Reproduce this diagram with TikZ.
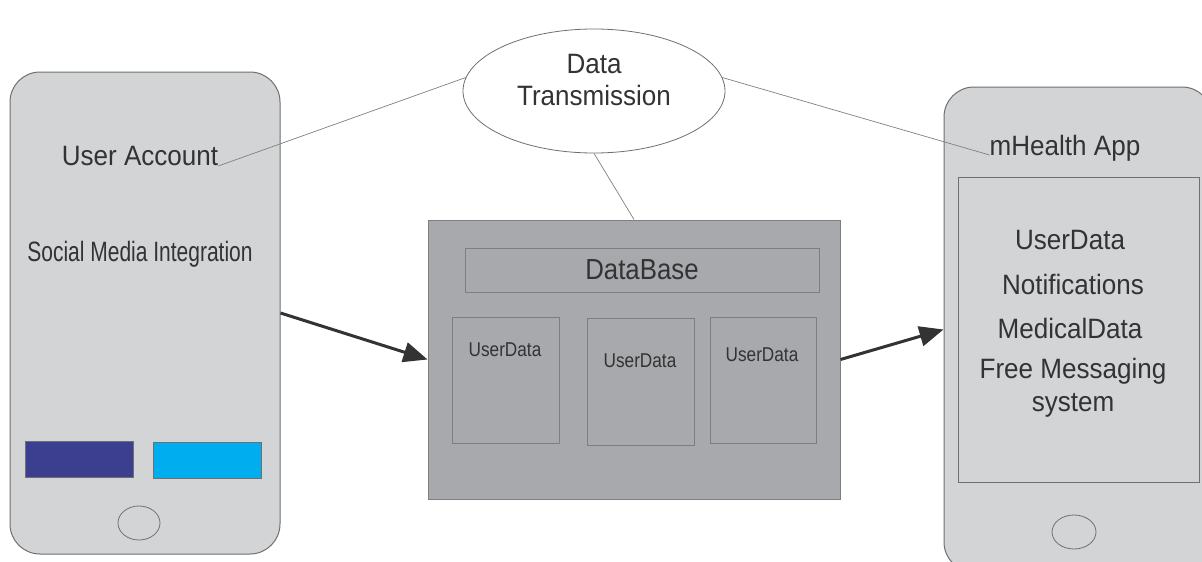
\documentclass[tikz,border=0pt]{standalone}
\usepackage{fontspec}
\setmainfont[FakeStretch=0.93]{Liberation Sans}
\newfontfamily\narrowfont[FakeStretch=0.75]{Liberation Sans}
\newfontfamily\semifont[FakeStretch=0.89]{Liberation Sans}
\newfontfamily\smallfont[FakeStretch=0.86]{Liberation Sans}
\usetikzlibrary{shapes.geometric,arrows.meta}
\definecolor{phonefill}{HTML}{D3D4D6}
\definecolor{phoneline}{HTML}{6F6F6F}
\definecolor{dbfill}{HTML}{A8A9AC}
\definecolor{dbline}{HTML}{7E7E80}
\definecolor{txt}{HTML}{333333}
\definecolor{linkc}{HTML}{808080}
\definecolor{navy}{HTML}{3C3F8F}
\definecolor{sky}{HTML}{00AEEF}
\begin{document}
\begin{tikzpicture}[x=1pt,y=-1pt,
 phone/.style={draw=phoneline, line width=1pt, fill=phonefill, rounded corners=30pt, inner sep=0},
 box/.style={draw=dbline, line width=1pt, inner sep=0},
 lbl/.style={text=txt, inner sep=0, font=\fontsize{28}{30}\selectfont},
 small/.style={text=txt, inner sep=0, font=\smallfont\fontsize{20}{22}\selectfont},
 link/.style={draw=linkc, line width=0.7pt},
 arr/.style={draw=txt, line width=3pt, -{Triangle[length=24pt,width=20pt]}},
 homebtn/.style={ellipse, draw=phoneline, line width=0.8pt, minimum width=42pt, minimum height=34pt, inner sep=0}
]
\useasboundingbox[fill=white] (0,0) rectangle (1202,562);

% left phone
\node[phone, minimum width=270pt, minimum height=482pt] (phoneL) at (145,313) {};
\node[lbl] (uacc) at (140,156) {User Account};
\node[text=txt, inner sep=0, font=\narrowfont\fontsize{28}{30}\selectfont] (smi) at (140,254) {Social Media Integration};
\node[draw=phoneline, line width=0.6pt, fill=navy, minimum width=108pt, minimum height=36pt, inner sep=0] (btn1) at (79,459) {};
\node[draw=phoneline, line width=0.6pt, fill=sky, minimum width=108pt, minimum height=36pt, inner sep=0] (btn2) at (207,460) {};
\node[homebtn] (homeL) at (139,523) {};

% right phone
\node[phone, minimum width=268pt, minimum height=485pt] (phoneR) at (1078,329.5) {};
\node[lbl, anchor=base] (mh) at (1065,155) {mHealth App};
\node[draw=phoneline, line width=1pt, fill=phonefill, minimum width=241pt, minimum height=305pt, inner sep=0] (screen) at (1078.5,329.5) {};
\node[lbl] (r1) at (1070,240) {UserData};
\node[lbl] (r2) at (1073,284) {Notifications};
\node[lbl] (r3) at (1070,328) {MedicalData};
\node[lbl, align=center, font=\fontsize{28}{33}\selectfont] (r4) at (1073,388) {Free Messaging\\system};
\node[homebtn, minimum width=44pt] (homeR) at (1074,532) {};

% database
\node[box, fill=dbfill, minimum width=412pt, minimum height=279pt] (db) at (634,359.5) {};
\node[box, minimum width=354pt, minimum height=44pt] (dbhead) at (642,270) {};
\node[text=txt, inner sep=0, font=\semifont\fontsize{29}{30}\selectfont] (dbt) at (642,270) {DataBase};
\node[box, minimum width=107pt, minimum height=126pt] (ud1) at (505.5,380) {};
\node[box, minimum width=107pt, minimum height=127pt] (ud2) at (640.5,381.5) {};
\node[box, minimum width=106pt, minimum height=126pt] (ud3) at (763,380) {};
\node[small] (ud1t) at (505,350) {UserData};
\node[small] (ud2t) at (640,361) {UserData};
\node[small] (ud3t) at (762,355) {UserData};

% data transmission ellipse
\node[ellipse, draw=phoneline, line width=0.8pt, fill=white, minimum width=262pt, minimum height=124pt, inner sep=0] (ell) at (594,91) {};
\node[lbl, align=center, font=\fontsize{28}{32}\selectfont] (ellt) at (594,80) {Data\\Transmission};

% connectors
\draw[link] (uacc.south east) -- (ell.174);
\draw[link] (ell.6) -- (mh.base west);
\draw[link] (ell.south) -- (db.north);
\draw[arr] (phoneL.east) -- (db.west);
\draw[arr] (db.east) -- (phoneR.west);
\end{tikzpicture}
\end{document}
